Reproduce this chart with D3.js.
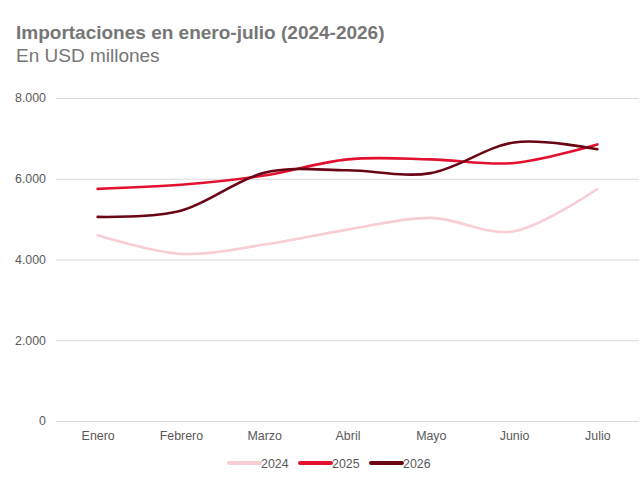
<!DOCTYPE html>
<html>
<head>
<meta charset="utf-8">
<script src="https://cdn.jsdelivr.net/npm/d3@7"></script>
<style>
  body { margin: 0; background: #fff; }
  #chart { width: 640px; height: 496px; }
  text { font-family: "Liberation Sans", Arial, sans-serif; }
</style>
</head>
<body>
<div id="chart"></div>
<script>
const months = ['Enero', 'Febrero', 'Marzo', 'Abril', 'Mayo', 'Junio', 'Julio'];
const years = ['2024', '2025', '2026'];
const v2024 = [4600, 4140, 4370, 4740, 5030, 4700, 5745];
const v2025 = [5750, 5850, 6080, 6480, 6480, 6390, 6850];
const v2026 = [5055, 5210, 6150, 6210, 6140, 6900, 6730];
const yTicks = [0, 2000, 4000, 6000, 8000];

const series = [
  { name: years[0], values: v2024, color: '#f9cdd4' },
  { name: years[1], values: v2025, color: '#e4102f' },
  { name: years[2], values: v2026, color: '#6a0514' },
];

const width = 640, height = 496;
const svg = d3.select('#chart').append('svg')
  .attr('width', width)
  .attr('height', height);

// titles
svg.append('text')
  .attr('x', 16).attr('y', 39)
  .attr('font-size', '19px')
  .attr('font-weight', 'bold')
  .attr('fill', '#767676')
  .text('Importaciones en enero-julio (2024-2026)');

svg.append('text')
  .attr('x', 16).attr('y', 62)
  .attr('font-size', '19px')
  .attr('fill', '#767676')
  .text('En USD millones');

const x = d3.scalePoint().domain(months).range([56, 639]).padding(0.5);
const y = d3.scaleLinear().domain([0, 8000]).range([421, 98]);

const fmt = d => d3.format(',')(d).replace(/,/g, '.');

// y grid + labels
const yAxis = d3.axisLeft(y)
  .tickValues(yTicks)
  .tickSize(-(639 - 56))
  .tickPadding(10)
  .tickFormat(fmt);

const gy = svg.append('g')
  .attr('transform', 'translate(56,0)')
  .call(yAxis);
gy.select('.domain').remove();
gy.selectAll('.tick line').attr('stroke', '#d9d9d9');
gy.selectAll('.tick text')
  .attr('font-size', '12.4px')
  .attr('fill', '#595959')
  .attr('font-family', '"Liberation Sans", Arial, sans-serif');

// x labels
const xAxis = d3.axisBottom(x).tickSize(0).tickPadding(10);
const gx = svg.append('g')
  .attr('transform', 'translate(0,421)')
  .call(xAxis);
gx.select('.domain').remove();
gx.selectAll('.tick text')
  .attr('font-size', '12.4px')
  .attr('fill', '#595959')
  .attr('font-family', '"Liberation Sans", Arial, sans-serif');

// lines
const line = d3.line()
  .x((d, i) => x(months[i]))
  .y(d => y(d))
  .curve(d3.curveCardinal.tension(0));

svg.append('g').selectAll('path')
  .data(series)
  .join('path')
  .attr('d', d => line(d.values))
  .attr('fill', 'none')
  .attr('stroke', d => d.color)
  .attr('stroke-width', 2.6)
  .attr('stroke-linecap', 'round');

// legend
const legend = svg.append('g').attr('transform', 'translate(229,463)');
const item = legend.selectAll('g')
  .data(series)
  .join('g')
  .attr('transform', (d, i) => `translate(${i * 71},0)`);

item.append('line')
  .attr('x1', 0).attr('x2', 31)
  .attr('y1', 0).attr('y2', 0)
  .attr('stroke', d => d.color)
  .attr('stroke-width', 4)
  .attr('stroke-linecap', 'round');

item.append('text')
  .attr('x', 32).attr('y', 4.5)
  .attr('font-size', '12.4px')
  .attr('fill', '#595959')
  .text(d => d.name);
</script>
</body>
</html>
